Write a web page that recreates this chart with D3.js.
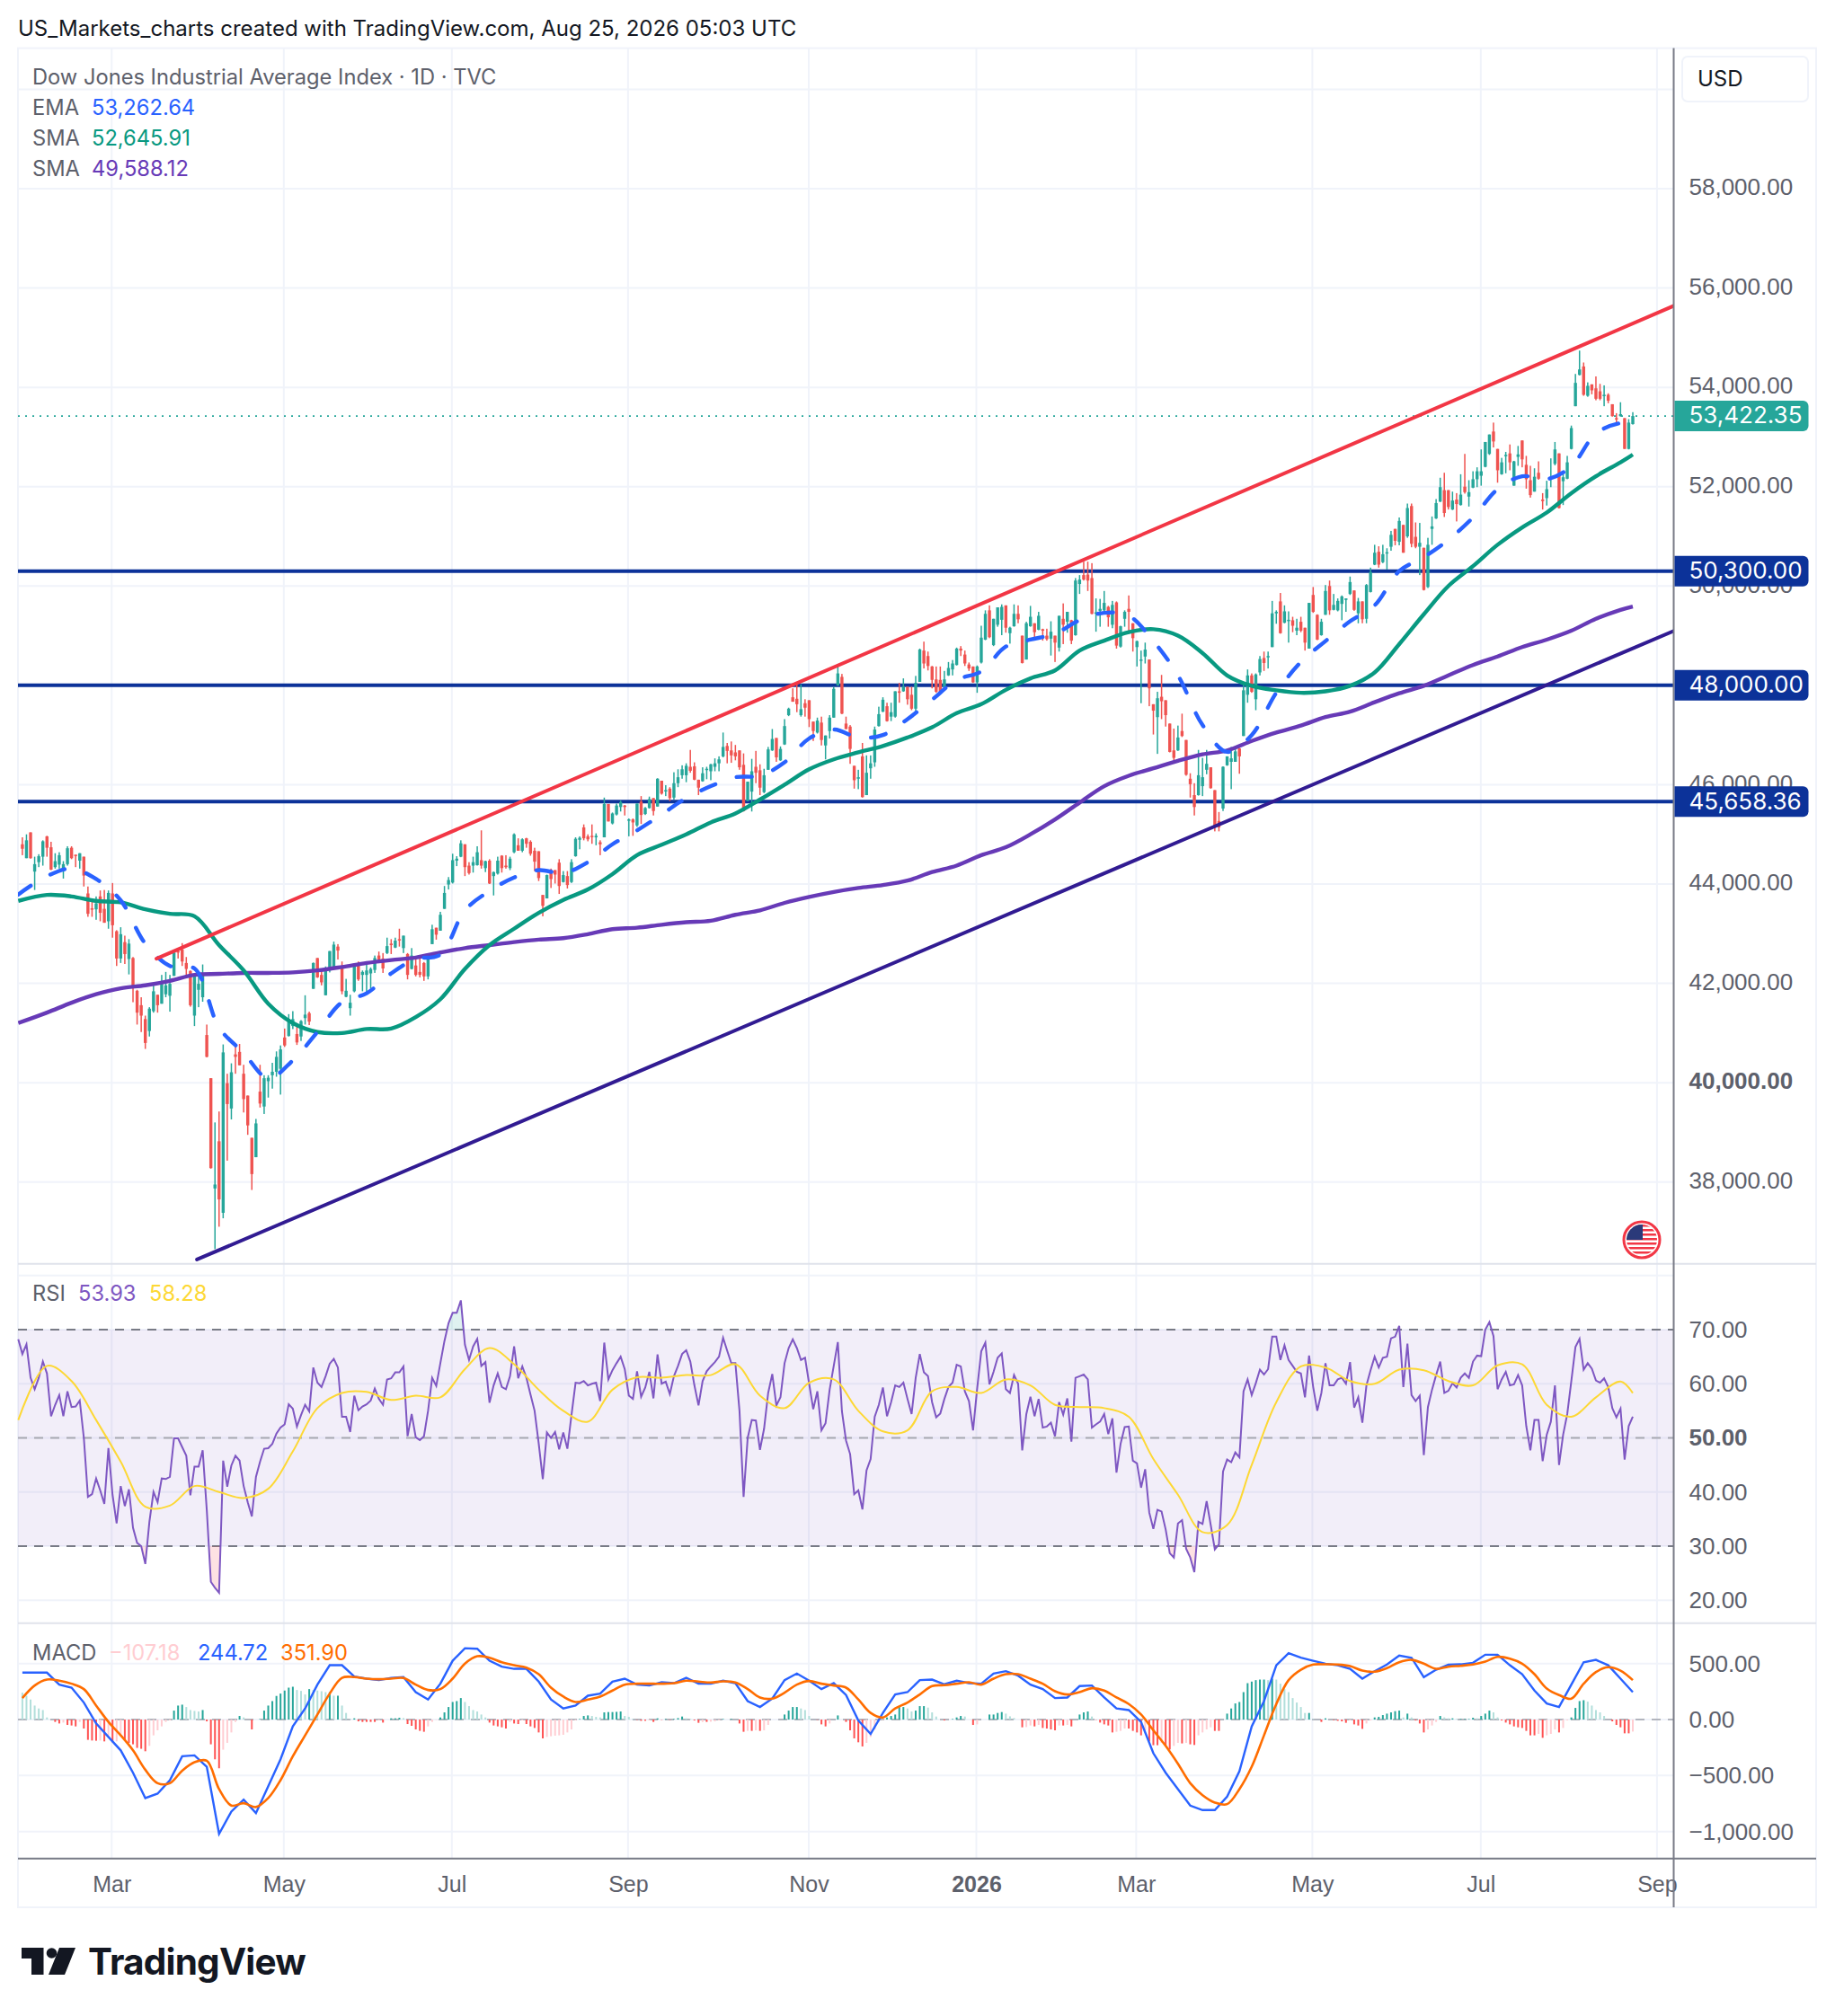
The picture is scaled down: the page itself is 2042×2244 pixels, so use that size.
<!DOCTYPE html>
<html>
<head>
<meta charset="utf-8">
<title>Dow Jones Industrial Average Index</title>
<script src="https://cdn.jsdelivr.net/npm/d3@7"></script>
<style>
  html, body { margin: 0; background: #fff; }
  svg { display: block; font-family: Inter, "Noto Sans", sans-serif; }
  .ax text { fill: #5d606b; font-size: 26px; }
  .ax path { display: none; }
  .time text { font-size: 25px; }
  .legend { font-size: 23.7px; fill: #5d606b; }
</style>
</head>
<body>
<svg id="chart" width="2042" height="2244"></svg>
<script>
// one value per trading day, oldest first
const opens = [
  44800,44520,45040,44250,44440,44550,44960,44740,44340,44390,
  44310,44400,44730,44590,44470,44550,43810,43510,43490,43750,
  43500,43250,43810,43050,42500,42830,42490,42510,41850,41560,
  41280,41040,41440,41770,41590,41780,41750,42150,42650,42680,
  42410,42250,41350,41870,41720,40960,40090,37870,38820,37380,
  39990,39480,40570,40620,40180,39740,38890,38500,39820,39520,
  40030,40150,40220,40280,40910,40940,41140,40980,40930,41300,
  41400,41890,42510,42170,41760,42260,42320,42740,42350,41730,
  41500,41840,42390,42170,42170,42200,42270,42560,42500,42610,
  42800,42720,42890,42710,42590,42290,42360,42230,42410,42140,
  42790,43120,43060,43500,43990,44030,44470,44550,44800,44370,
  44370,44380,44480,44320,44470,44160,44210,44570,44370,44320,
  44640,44780,44670,44920,44850,44670,44660,43780,43710,44280,
  44280,44430,44040,44160,44040,44560,44890,45140,44960,44970,
  44940,44840,44940,45610,45220,45400,45550,45580,45290,45300,
  45180,45660,45410,45530,45730,45560,46080,45880,45920,45740,
  46030,46190,46190,46360,46370,46100,46070,46300,46270,46360,
  46430,46570,46780,46690,46650,46690,46400,45670,45860,46360,
  46290,45850,46300,46690,46940,46490,46810,47400,47760,47730,
  47400,47640,47700,47270,47050,47250,46790,47080,47350,48000,
  48170,47230,47170,46380,46120,46570,45790,46330,46450,47180,
  47470,47580,47370,47370,47880,47880,47970,47810,47530,48070,
  48700,48590,48380,48120,48110,47960,48200,48320,48410,48740,
  48620,48420,48380,48060,48460,48920,49510,48810,49220,49320,
  49610,49050,49190,49440,49000,48520,49190,49250,49120,49130,
  49000,48940,49000,48760,49340,49280,49310,49010,50040,50220,
  50230,50160,49440,49500,49510,49580,49220,49670,48780,49340,
  49540,49250,48770,48500,48580,48520,47620,47360,47770,47700,
  47230,46690,46690,47080,46900,46120,45790,45790,45970,46300,
  46350,45890,45270,45520,46390,46460,46460,46730,46980,47810,
  48200,47720,48260,48550,48570,48770,49450,49690,49260,49300,
  49310,49100,49280,49160,48740,49820,49420,49010,49420,50000,
  49520,49510,49640,49720,49840,49910,49450,49690,49340,49880,
  50430,50690,50480,50660,50790,51150,50890,51230,51000,51610,
  50990,50790,50770,49980,51150,51360,51700,51930,51930,51540,
  51740,51630,52000,51800,51980,52150,52220,52400,52660,53110,
  52760,52250,52620,52670,52020,52600,52930,52440,52130,51900,
  52280,51740,51770,52160,52460,52670,52110,52160,52760,53620,
  54250,54420,53830,54060,53980,53920,53830,53850,53660,53380,
  53420,53380,52760,53260
];
const highs = [
  44940,45000,45040,44550,44600,44880,44970,44850,44620,44640,
  44460,44760,44760,44590,44620,44550,43950,43670,43750,43870,
  43880,43870,44020,43070,43130,42960,42890,42530,41870,41720,
  41350,41520,42000,41770,42170,42230,42170,42650,42680,42810,
  42530,42260,42170,42140,42380,41170,40090,39200,39420,40770,
  40180,40390,40780,40780,40360,39740,38890,39270,40360,40150,
  40150,40400,40630,40750,41090,41380,41440,41160,41260,41760,
  41430,42420,42510,42290,42340,42650,42840,42790,42440,42090,
  41770,42350,42440,42260,42380,42320,42560,42640,42610,42920,
  42890,42920,43100,42960,42610,42710,42530,42530,42430,42600,
  43180,43120,43440,43960,44140,44610,44560,44880,44800,44440,
  44550,44760,45080,44470,44500,44250,44550,44580,44580,44550,
  45020,44920,44920,44930,44880,44730,44660,43780,44190,44310,
  44280,44500,44260,44260,44500,44940,44960,45200,45000,45200,
  45020,44880,45740,45610,45440,45620,45680,45590,45320,45320,
  45620,45770,45550,45760,45730,46130,46080,45990,45950,46250,
  46310,46390,46430,46700,46450,46100,46350,46360,46420,46530,
  46570,47050,46840,46870,46800,46690,46630,46060,46520,46680,
  46410,46320,46760,47120,46940,46770,47320,47550,47940,48020,
  48020,47720,47700,47270,47350,47370,46990,47400,47970,48420,
  48230,47370,47200,46380,46300,46840,46590,46590,47170,47570,
  47760,47650,47650,47880,48050,48140,47970,47970,48190,48740,
  48880,48680,48390,48380,48380,48290,48470,48510,48760,48790,
  48700,48460,48380,48400,49200,49510,49610,49340,49570,49630,
  49610,49180,49630,49610,49000,49280,49600,49250,49480,49140,
  49140,49290,49000,49400,49650,49480,49320,50160,50220,50490,
  50490,50460,49750,49740,49900,49600,49700,49690,49200,49510,
  49810,49250,48900,48700,48860,48520,47620,47870,48210,47700,
  47230,47130,47190,47430,46900,46230,46030,46700,46540,46700,
  46350,45890,45450,46370,46570,46760,46760,46740,48050,48320,
  48240,48240,48590,48680,48680,49700,49510,49860,49610,49490,
  49380,49340,49380,49160,49660,49980,49430,49340,50020,50110,
  49840,49750,49810,49750,50190,49910,49760,49690,50040,50370,
  50830,50800,50830,50760,51110,51150,51380,51230,51660,51660,
  51280,51270,50770,50970,51400,51750,52180,52280,51930,51900,
  51870,52250,52660,52130,52310,52390,52750,52900,53050,53290,
  52760,52580,52700,52850,52520,52820,52930,52620,52420,52370,
  52510,51870,52120,52570,52900,52670,52250,52620,53230,54270,
  54740,54500,54100,54060,54220,54070,54040,53880,53660,53480,
  53700,53380,53360,53500
];
const lows = [
  44580,44520,44510,43880,44340,44370,44550,44280,44310,44310,
  44110,44370,44500,44340,44310,43950,43340,43340,43280,43250,
  43220,43100,42920,42350,42410,42390,42180,41620,41170,41020,
  40680,40930,41410,41410,41590,41720,41430,42150,42500,42350,
  42140,41530,41140,41520,41630,40510,38270,36650,37100,37270,
  38430,39260,40180,40350,39400,38950,37840,38500,39500,39370,
  39700,39880,40120,39760,40720,40930,41080,40760,40840,41170,
  41160,41890,42110,41960,41760,42220,42320,42480,41780,41720,
  41350,41820,42050,41840,41810,41900,42210,42410,42210,42590,
  42590,42710,42740,42610,42080,42280,42140,42120,42050,42080,
  42790,42880,43060,43500,43890,44010,44360,44540,44160,44190,
  44230,44370,44310,44240,44000,43770,44190,44230,44310,44280,
  44620,44670,44640,44730,44570,44260,44060,43350,43710,43920,
  44010,43800,44030,43910,44020,44550,44700,44880,44860,44810,
  44780,44580,44940,45260,45200,45380,45460,45380,44960,44970,
  45150,45210,45390,45520,45380,45560,45800,45770,45670,45700,
  45950,46120,46050,46240,46090,45790,46060,46110,46090,46270,
  46270,46550,46430,46440,46490,46300,45460,45670,45460,46030,
  45790,45830,46300,46680,46460,46480,46800,47380,47670,47460,
  47370,47370,47160,46880,47030,46790,46510,46930,47350,47990,
  47420,47120,46420,45920,45910,45740,45790,46120,46360,47170,
  47460,47270,47280,47350,47650,47870,47610,47500,47480,48070,
  48340,48300,47940,47850,47850,47950,48190,48200,48400,48590,
  48390,48290,48050,47850,48440,48910,48950,48790,49180,49010,
  49060,48840,49180,49250,48440,48520,49180,48950,49110,48900,
  48900,48600,48470,48680,48830,49060,48830,49000,49840,50110,
  49900,49430,49080,49180,49480,49180,49150,48740,48760,49180,
  49040,48680,48380,47640,48440,47580,47010,46620,47320,47170,
  46650,46490,46680,46960,46180,45740,45380,45780,45770,46210,
  45920,45060,45060,45470,46380,45910,46460,46220,46980,47650,
  47850,47500,48200,48290,48340,48770,49240,49040,49250,48860,
  49070,49010,49070,48700,48740,49460,48910,49000,49420,49420,
  49510,49490,49310,49480,49820,49500,49250,49250,49250,49870,
  50420,50370,50460,50330,50710,50820,50820,50670,50970,50780,
  50760,50220,49910,49960,50830,51350,51690,51390,51540,51530,
  51300,51620,51860,51600,51970,51990,52020,52390,52640,52790,
  52080,52240,52270,52330,52020,52420,52390,51960,51780,51900,
  52140,51540,51620,51990,52430,51560,51630,52150,52750,53620,
  54240,53830,53810,53860,53740,53740,53620,53680,53410,53240,
  53410,52760,52750,53250
];
const closes = [
  44710,44880,44520,44400,44560,44860,44730,44290,44460,44580,
  44400,44720,44520,44570,44620,44170,43400,43490,43610,43420,
  43220,43820,43170,42500,42990,42590,42800,41900,41410,41350,
  40800,41490,41840,41560,41990,41960,41990,42620,42620,42440,
  42290,41560,42170,41990,42210,40520,38280,37950,37650,40610,
  39570,40210,40520,40350,39670,39140,38160,39180,39580,40090,
  40100,40220,40520,40670,40750,41280,41280,40810,41240,41370,
  41230,42410,42120,42020,42290,42650,42780,42660,41840,41850,
  41610,42340,42080,42230,42260,42290,42510,42470,42300,42750,
  42770,42860,42870,42960,42170,42560,42170,42170,42140,42590,
  43090,42980,43380,43820,44080,44480,44510,44820,44340,44220,
  44440,44640,44370,44460,44010,44240,44470,44320,44340,44510,
  45000,44670,44900,44810,44610,44450,44120,43560,44180,44100,
  44190,43960,44180,43980,44440,44910,44930,44920,44900,44960,
  44970,44800,45610,45260,45420,45580,45650,45550,45300,45240,
  45620,45390,45530,45710,45470,46120,45820,45890,45730,46030,
  46150,46310,46380,46280,46100,45940,46230,46320,46410,46430,
  46510,46760,46680,46590,46570,46350,45470,46060,46270,46240,
  45940,46190,46710,46920,46550,46720,47180,47530,47670,47620,
  47520,47550,47320,47080,47290,46900,46990,47350,47930,48240,
  47430,47120,46720,46090,46150,45750,46240,46430,47110,47420,
  47710,47280,47460,47880,47850,47970,47720,47530,48050,48720,
  48440,48390,48110,47870,47870,48120,48350,48440,48740,48700,
  48440,48340,48060,48380,48960,49440,48970,49340,49570,49580,
  49160,49160,49440,49330,48450,49250,49380,49070,49400,49100,
  48930,49080,48860,49400,49220,49480,48900,50110,50130,50130,
  50110,49440,49470,49540,49660,49370,49620,48800,49190,49480,
  49480,48950,48890,48520,48720,47940,47490,47740,47680,47400,
  46660,46540,46950,46980,46200,46010,45550,46190,46150,46420,
  45930,45150,45140,46360,46570,46530,46670,46570,47900,48200,
  47870,48220,48530,48450,48590,49450,49480,49050,49490,49320,
  49200,49160,49100,48860,49660,49480,48920,49280,49900,49510,
  49620,49700,49790,49750,50080,49520,49690,49330,50020,50280,
  50670,50430,50640,50680,51030,50910,51310,50670,51570,50850,
  50790,50870,49920,50830,51200,51670,51990,51470,51590,51720,
  51650,51840,51890,51890,52150,52310,52310,52900,53050,52910,
  52330,52490,52640,52490,52510,52650,52550,52150,51830,52200,
  52160,51710,51950,52190,52750,51570,52190,52490,53180,54090,
  54360,53850,54030,53940,53770,53770,53850,53730,53420,53360,
  53460,52760,53290,53422.35
];

// moving averages, read every sixth bar
const maIdx = d3.range(0, 394, 6).concat(393);
maIdx[0] = -1; // the lines run off the left edge
const ema = [
  43790,44160,44310,44100,43670,42800,42350,42300,41110,40600,
  40090,40450,41020,41620,41800,42200,42490,42580,43470,43860,
  44130,44280,44220,44440,44800,45080,45400,45730,45970,46150,
  46180,46450,46930,47110,46950,47000,47320,47710,48110,48280,
  48780,48920,49040,49310,49460,49400,48890,48200,47200,46660,
  47000,47850,48470,48890,49290,49610,50300,50580,50930,51380,
  51950,52210,52150,52410,53070,53280,53262.64
];
const smaFast = [
  43660,43780,43750,43660,43630,43490,43400,43350,42770,42260,
  41590,41200,41020,41000,41080,41090,41320,41680,42290,42770,
  43100,43420,43680,43890,44200,44580,44790,45000,45240,45420,
  45700,46000,46310,46510,46650,46780,46950,47155,47440,47620,
  47910,48140,48300,48700,48900,49070,49130,49000,48650,48200,
  47990,47900,47850,47880,47990,48260,48830,49430,50000,50400,
  50830,51180,51480,51870,52210,52490,52645.91
];
const smaSlow = [
  41200,41410,41610,41780,41900,41960,42050,42170,42190,42210,
  42210,42220,42260,42330,42410,42470,42520,42620,42710,42770,
  42830,42880,42910,42990,43090,43120,43180,43230,43260,43380,
  43470,43620,43740,43840,43920,43980,44070,44240,44370,44580,
  44740,45000,45300,45640,45970,46180,46330,46480,46610,46690,
  46880,47050,47190,47360,47470,47660,47840,47990,48200,48410,
  48580,48770,48920,49100,49340,49520,49588.12
];

// horizontal levels and trendlines, bar index / price
const levels = [50300, 48000, 45658.36];
const redTrendIdx = [32.7, 403];
const redTrendPrice = [42497, 55641];
const navyTrendIdx = [42.6, 403];
const navyTrendPrice = [36440, 49096];

// RSI, one per bar, first value is the bar cut off at the left edge
const rsi = [
  68.2,
  65.5,67.3,61.1,59.0,61.1,64.1,61.9,54.0,56.1,57.9,
  54.0,58.6,55.7,55.8,56.9,50.0,39.1,39.6,42.5,40.3,
  37.8,48.1,39.5,34.2,41.1,37.4,40.5,33.4,30.6,30.0,
  26.7,34.5,40.0,38.1,42.5,42.4,42.8,49.9,49.9,48.3,
  46.7,39.4,44.7,44.7,47.7,36.7,23.4,22.3,21.4,45.8,
  41.0,44.9,46.7,45.8,41.1,38.1,35.5,42.8,45.6,48.0,
  48.1,48.9,50.8,51.9,52.5,56.2,55.4,52.1,54.2,56.1,
  54.9,63.0,60.2,59.4,61.4,63.7,64.6,63.0,53.9,53.9,
  51.1,57.8,55.1,55.8,56.2,56.9,59.1,57.2,56.1,60.8,
  61.0,62.1,62.1,63.2,50.3,54.4,50.1,49.6,50.3,55.0,
  61.1,59.6,63.8,67.9,71.2,73.1,73.1,75.4,67.2,64.4,
  66.9,68.3,63.3,64.0,56.5,59.7,61.9,59.4,59.0,61.4,
  66.9,61.0,63.2,61.1,58.0,55.0,49.0,42.4,51.0,50.0,
  51.1,47.9,51.0,48.0,54.2,60.2,60.1,60.5,59.7,60.0,
  60.2,56.8,67.6,60.8,62.5,63.8,65.0,62.7,57.8,57.2,
  62.3,57.6,59.3,62.2,57.3,65.4,60.0,60.4,58.1,61.4,
  63.3,65.5,66.2,64.1,59.7,56.0,60.5,62.3,63.2,64.0,
  65.0,68.5,66.1,63.8,63.8,55.0,39.1,50.0,53.3,53.2,
  47.8,51.7,58.3,61.8,56.0,57.5,63.8,66.6,68.2,66.6,
  64.4,64.8,60.0,55.3,58.6,51.4,52.7,58.9,63.3,67.7,
  54.9,49.5,47.0,39.6,40.3,36.8,44.0,46.1,53.9,56.1,
  59.3,54.0,56.6,59.7,59.4,60.2,57.2,54.4,61.1,65.5,
  62.1,61.4,56.6,53.8,54.5,57.2,59.4,60.2,63.5,63.2,
  58.6,56.8,51.4,59.1,66.0,67.6,59.9,62.2,64.8,65.6,
  59.0,58.3,61.6,60.0,47.7,54.4,57.6,54.0,57.2,51.9,
  52.1,52.8,50.3,56.6,54.3,57.3,49.3,61.1,61.4,61.7,
  60.8,51.9,52.5,53.0,54.4,50.7,53.6,43.6,48.9,52.0,
  52.1,45.8,45.3,40.8,44.2,36.2,33.2,36.7,36.4,33.1,
  28.7,27.9,34.2,34.8,29.5,27.9,25.2,34.5,34.1,38.3,
  33.9,29.4,30.3,43.8,46.0,45.5,47.3,46.4,58.6,60.8,
  57.9,60.1,62.6,61.7,62.7,68.7,68.7,64.4,67.1,64.4,
  63.3,62.2,61.9,57.5,65.2,59.4,55.0,58.3,63.8,59.7,
  59.7,60.8,61.1,60.0,64.0,55.6,57.5,52.8,59.7,62.5,
  65.0,63.0,64.8,65.0,68.4,68.7,70.7,59.4,67.4,57.9,
  56.8,57.8,46.8,55.7,58.9,61.6,64.1,58.3,58.7,60.1,
  59.3,61.1,61.9,61.1,64.1,65.2,65.1,70.0,71.4,68.8,
  59.0,60.8,62.2,59.7,59.9,61.6,59.7,52.2,47.7,53.3,
  53.3,45.7,50.6,53.0,59.7,45.0,50.6,54.4,60.5,66.8,
  68.3,62.6,63.8,62.8,60.6,60.2,61.0,59.4,55.5,53.8,
  55.4,46.0,52.2,53.93
];
const rsiSignal = [
  53.3,63.3,60.5,53.3,45.6,37.3,37.5,41.1,40.0,38.9,
  40.6,47.5,55.5,58.3,58.5,57.0,57.8,57.5,62.7,66.6,
  63.6,58.9,55.0,53.0,58.9,61.2,61.1,61.6,61.6,63.6,
  57.8,55.5,60.2,60.8,55.0,51.2,51.4,58.6,59.4,58.3,
  60.8,59.7,56.1,55.7,55.5,53.9,46.1,39.5,32.6,33.9,
  45.0,56.6,63.2,63.0,60.5,60.0,62.6,62.5,60.5,59.7,
  63.4,63.6,56.1,53.9,57.5,60.4,58.28
];

// MACD lines read every third bar, histogram every bar
const macdIdx = d3.range(0, 394, 3);
const macdLine = [
  419,419,419,312,285,152,-35,-155,-275,-475,
  -701,-661,-541,-328,-320,-421,-1021,-821,-715,-835,
  -595,-355,-61,99,312,485,485,384,365,352,
  371,379,245,179,320,525,637,632,525,472,
  453,453,339,179,99,125,213,232,339,365,
  312,304,333,325,373,320,320,347,325,165,
  112,187,352,411,347,272,325,219,-8,-128,
  59,224,245,352,357,315,347,325,320,411,
  432,392,312,272,192,197,299,304,197,99,
  85,-21,-301,-475,-621,-768,-808,-808,-688,-461,
  -61,165,485,592,552,525,499,485,453,365,
  432,491,571,552,379,445,491,493,507,579,
  579,485,405,259,144,112,312,512,533,485,
  365,244.72
];
const macdSignal = [
  192,304,357,347,320,272,125,-21,-141,-275,
  -448,-568,-568,-456,-381,-368,-621,-768,-747,-781,
  -701,-541,-328,-141,45,232,373,379,365,360,
  365,371,312,264,272,365,499,565,552,512,
  485,464,405,285,205,157,179,205,259,312,
  320,320,320,325,347,339,331,341,331,272,
  197,187,240,312,344,320,304,285,179,59,
  19,99,152,224,299,307,320,333,312,365,
  405,405,365,320,253,224,245,280,259,197,
  139,45,-96,-235,-395,-568,-675,-741,-755,-621,
  -421,-141,139,352,445,491,493,491,477,437,
  427,459,512,533,499,453,472,480,491,517,
  560,544,499,405,277,219,187,320,424,467,
  437,351.9
];
const macdHist = [
  240,213,179,125,99,85,19,0,-21,-35,
  -27,-48,-53,-61,-21,-80,-181,-187,-189,-187,
  -195,-141,-203,-195,-141,-187,-208,-221,-253,-261,
  -283,-235,-141,-96,-61,-21,-8,80,125,133,
  112,85,77,72,85,-16,-221,-355,-435,-269,
  -208,-115,-21,32,19,0,-88,0,5,80,
  125,165,211,232,259,285,293,264,256,224,
  272,264,259,253,245,245,213,213,125,59,
  5,11,-16,-21,-21,-21,-21,-8,-27,0,
  11,11,16,13,-40,-56,-88,-101,-109,-61,
  -21,-3,19,64,112,157,165,192,157,120,
  85,72,45,19,-27,-53,-61,-69,-80,-21,
  -35,-40,-8,-40,-61,-75,-115,-168,-155,-149,
  -144,-141,-136,-115,-88,-8,5,32,37,32,
  24,19,64,67,67,69,72,32,24,5,
  -3,-11,-11,-8,-21,11,-3,5,-3,5,
  13,27,11,5,-8,-29,-21,-21,-19,-16,
  -8,5,0,5,0,-35,-109,-101,-101,-96,
  -101,-96,-48,0,0,0,45,80,112,112,
  99,85,32,0,-3,-43,-61,-35,0,37,
  0,-21,-96,-168,-203,-240,-208,-155,-88,-21,
  -3,19,32,45,112,112,99,72,80,120,
  120,107,64,27,0,-8,0,5,19,32,
  27,0,-48,-43,0,0,45,45,59,67,
  53,29,13,0,-69,-67,-53,-61,-48,-75,
  -80,-88,-96,-53,-53,-48,-61,0,45,64,
  72,27,-3,-27,-43,-53,-115,-109,-101,-80,
  -80,-101,-115,-141,-96,-195,-229,-229,-208,-235,
  -267,-235,-208,-213,-208,-221,-227,-141,-115,-88,
  -69,-101,-101,0,53,99,144,157,245,325,
  339,352,357,357,352,365,357,320,272,245,
  192,152,112,59,59,5,0,-21,11,0,
  -5,-11,-16,-29,-8,-43,-53,-83,-35,-8,
  19,24,40,53,64,75,80,19,53,19,
  -8,-35,-115,-88,-53,-21,32,19,11,11,
  5,5,5,5,16,11,32,53,80,64,
  19,-8,-27,-43,-61,-69,-75,-101,-141,-141,
  -128,-163,-141,-128,-88,-115,-75,-8,19,104,
  165,173,160,125,85,64,32,0,-16,-48,
  -69,-123,-123,-107.18
];

// axes
const timeIdx = [21.8, 63.8, 104.8, 147.8, 191.9, 232.8, 271.8, 314.8, 355.9, 398.9];
const timeLabels = ['Mar', 'May', 'Jul', 'Sep', 'Nov', '2026', 'Mar', 'May', 'Jul', 'Sep'];
const priceTicks = [58000, 56000, 54000, 52000, 50000, 48000, 46000, 44000, 42000, 40000, 38000];
const priceGrid = [60000].concat(priceTicks);
const rsiTicks = [70, 60, 50, 40, 30, 20];
const rsiGrid = [80].concat(rsiTicks);
const macdTicks = [500, 0, -500, -1000];

const UP = '#26a69a', DOWN = '#ef5350';
const LEVEL = '#0c3299';
const LEFT = 20, AXIS_X = 1862.5, RIGHT = 2021;
const TOP = 53.6, PRICE_BOTTOM = 1406.7, RSI_BOTTOM = 1806.7, MACD_BOTTOM = 2068.7, TIME_BOTTOM = 2123;

const fmt = d => {
  const s = d3.format(',.2f')(Math.abs(d));
  return (d < 0 ? '\u2212' : '') + s;
};

const svg = d3.select('#chart');
const defs = svg.append('defs');

const x = d3.scaleLinear().domain([0, 393]).range([24.9, 1817]);
const y = d3.scaleLinear().domain([58000, 38000]).range([210, 1315.7]);
const yRsi = d3.scaleLinear().domain([70, 30]).range([1480, 1721]);
const yMacd = d3.scaleLinear().domain([500, -1000]).range([1851.7, 2038.7]);

const clip = (id, top, bottom) =>
  defs.append('clipPath').attr('id', id).append('rect')
    .attr('x', LEFT).attr('y', top).attr('width', AXIS_X - LEFT).attr('height', bottom - top);

clip('clip-price', TOP, PRICE_BOTTOM);
clip('clip-over', yRsi.range()[0] - 80, yRsi(70));
clip('clip-under', yRsi(30), RSI_BOTTOM);

// grid
const grid = svg.append('g').attr('stroke', '#f0f3fa').attr('stroke-width', 2);
const hGrid = (values, scale) =>
  grid.append('g').selectAll('line').data(values).join('line')
    .attr('x1', LEFT).attr('x2', AXIS_X)
    .attr('y1', d => scale(d)).attr('y2', d => scale(d));

grid.append('g').selectAll('line').data(timeIdx).join('line')
  .attr('x1', d => x(d)).attr('x2', d => x(d))
  .attr('y1', TOP).attr('y2', MACD_BOTTOM);
hGrid(priceGrid, y);
hGrid(rsiGrid, yRsi);
hGrid(macdTicks, yMacd);

// frame
svg.append('rect')
  .attr('x', LEFT).attr('y', TOP)
  .attr('width', RIGHT - LEFT).attr('height', TIME_BOTTOM - TOP)
  .attr('fill', 'none').attr('stroke', '#f0f3fa').attr('stroke-width', 2);

// RSI band goes over the grid but is see-through
svg.append('rect')
  .attr('x', LEFT).attr('y', yRsi(70))
  .attr('width', AXIS_X - LEFT).attr('height', yRsi(30) - yRsi(70))
  .attr('fill', '#7e57c2').attr('fill-opacity', 0.1);

// price pane
const price = svg.append('g').attr('clip-path', 'url(#clip-price)');

price.append('g').selectAll('line').data(levels).join('line')
  .attr('x1', LEFT).attr('x2', AXIS_X)
  .attr('y1', d => y(d)).attr('y2', d => y(d))
  .attr('stroke', LEVEL).attr('stroke-width', 4);

price.append('line')
  .attr('x1', LEFT).attr('x2', AXIS_X)
  .attr('y1', y(closes[393])).attr('y2', y(closes[393]))
  .attr('stroke', UP).attr('stroke-width', 1.6).attr('stroke-dasharray', '2 6');

const candles = price.append('g').selectAll('g').data(d3.range(opens.length)).join('g')
  .attr('fill', i => closes[i] >= opens[i] ? UP : DOWN);

candles.append('rect')
  .attr('x', i => x(i) - 0.75).attr('width', 1.5)
  .attr('y', i => y(highs[i])).attr('height', i => y(lows[i]) - y(highs[i]));

candles.append('rect')
  .attr('x', i => x(i) - 1.7).attr('width', 3.4)
  .attr('y', i => y(Math.max(opens[i], closes[i])))
  .attr('height', i => Math.max(1.5, Math.abs(y(opens[i]) - y(closes[i]))));

const maLine = d3.line()
  .x((d, i) => x(maIdx[i]))
  .y(d => y(d))
  .curve(d3.curveCatmullRom);

price.append('path').attr('d', maLine(smaSlow))
  .attr('fill', 'none').attr('stroke', '#673ab7').attr('stroke-width', 4.4);
price.append('path').attr('d', maLine(smaFast))
  .attr('fill', 'none').attr('stroke', '#089981').attr('stroke-width', 4.4);
price.append('path').attr('d', maLine(ema))
  .attr('fill', 'none').attr('stroke', '#2962ff').attr('stroke-width', 4.4)
  .attr('stroke-linecap', 'round').attr('stroke-dasharray', '17 25');

const trend = (idx, prices, color) =>
  price.append('line')
    .attr('x1', x(idx[0])).attr('y1', y(prices[0]))
    .attr('x2', x(idx[1])).attr('y2', y(prices[1]))
    .attr('stroke', color).attr('stroke-width', 4).attr('stroke-linecap', 'round');

trend(redTrendIdx, redTrendPrice, '#f23645');
trend(navyTrendIdx, navyTrendPrice, '#311b92');

// RSI pane
const rsiDash = (v, color) =>
  svg.append('line')
    .attr('x1', LEFT).attr('x2', AXIS_X)
    .attr('y1', yRsi(v)).attr('y2', yRsi(v))
    .attr('stroke', color).attr('stroke-width', 2).attr('stroke-dasharray', '10 8');

rsiDash(70, '#787b86');
rsiDash(50, '#a8aab2');
rsiDash(30, '#787b86');

const rsiX = (d, i) => x(i - 1);
svg.append('path')
  .attr('clip-path', 'url(#clip-over)')
  .attr('d', d3.area().x(rsiX).y0(yRsi(70)).y1(d => yRsi(d))(rsi))
  .attr('fill', '#26a69a').attr('fill-opacity', 0.15);
svg.append('path')
  .attr('clip-path', 'url(#clip-under)')
  .attr('d', d3.area().x(rsiX).y0(yRsi(30)).y1(d => yRsi(d))(rsi))
  .attr('fill', '#f23645').attr('fill-opacity', 0.15);

svg.append('path')
  .attr('d', d3.line().x(rsiX).y(d => yRsi(d))(rsi))
  .attr('fill', 'none').attr('stroke', '#7e57c2').attr('stroke-width', 2);
svg.append('path')
  .attr('d', d3.line().x((d, i) => x(maIdx[i])).y(d => yRsi(d)).curve(d3.curveCatmullRom)(rsiSignal))
  .attr('fill', 'none').attr('stroke', '#fdd835').attr('stroke-width', 2);

// MACD pane
svg.append('line')
  .attr('x1', LEFT).attr('x2', AXIS_X)
  .attr('y1', yMacd(0)).attr('y2', yMacd(0))
  .attr('stroke', '#b2b5be').attr('stroke-width', 2).attr('stroke-dasharray', '10 8');

const histColor = (d, i) => {
  const prev = i ? macdHist[i - 1] : d + 1;
  if (d >= 0) return d >= prev ? '#26a69a' : '#b2dfdb';
  return d <= prev ? '#ff5252' : '#ffcdd2';
};

svg.append('g').selectAll('rect').data(macdHist).join('rect')
  .attr('x', (d, i) => x(i) - 1).attr('width', 2)
  .attr('y', d => Math.min(yMacd(d), yMacd(0)))
  .attr('height', d => Math.abs(yMacd(d) - yMacd(0)))
  .attr('fill', histColor);

const macdPath = d3.line().x((d, i) => x(macdIdx[i])).y(d => yMacd(d));
svg.append('path').attr('d', macdPath(macdLine))
  .attr('fill', 'none').attr('stroke', '#2962ff').attr('stroke-width', 2.4);
svg.append('path').attr('d', macdPath.curve(d3.curveCatmullRom)(macdSignal))
  .attr('fill', 'none').attr('stroke', '#ff6d00').attr('stroke-width', 2.6);

// pane separators
const separator = (py, color) =>
  svg.append('line')
    .attr('x1', LEFT).attr('x2', RIGHT).attr('y1', py).attr('y2', py)
    .attr('stroke', color).attr('stroke-width', 2);

separator(PRICE_BOTTOM, '#e0e3eb');
separator(RSI_BOTTOM, '#e0e3eb');
separator(MACD_BOTTOM, '#787b86');

// axis labels
const rightAxis = (scale, values) =>
  svg.append('g').attr('class', 'ax')
    .attr('transform', `translate(${AXIS_X},0)`)
    .call(d3.axisRight(scale).tickValues(values).tickSize(0).tickPadding(17).tickFormat(fmt));

rightAxis(y, priceTicks).selectAll('text')
  .attr('dy', '.26em')
  .attr('font-weight', d => d === 40000 ? 700 : 400);
rightAxis(yRsi, rsiTicks).selectAll('text')
  .attr('font-weight', d => d === 50 ? 700 : 400);
rightAxis(yMacd, macdTicks);

svg.append('g').attr('class', 'ax time')
  .attr('transform', `translate(0,${MACD_BOTTOM})`)
  .call(d3.axisBottom(x).tickValues(timeIdx).tickSize(0).tickPadding(20)
    .tickFormat((d, i) => timeLabels[i]))
  .selectAll('text')
  .attr('font-weight', (d, i) => timeLabels[i] === '2026' ? 700 : 400);

svg.append('line')
  .attr('x1', AXIS_X).attr('x2', AXIS_X).attr('y1', TOP).attr('y2', TIME_BOTTOM)
  .attr('stroke', '#787b86').attr('stroke-width', 2);

// price tags on the axis
const tags = [
  { v: closes[393], color: UP },
  { v: levels[0], color: LEVEL },
  { v: levels[1], color: LEVEL },
  { v: levels[2], color: LEVEL }
];
const tag = svg.append('g').selectAll('g').data(tags).join('g')
  .attr('transform', d => `translate(${AXIS_X + 1},${y(d.v)})`);
tag.append('path')
  .attr('d', 'M0,-17 H143 a6,6 0 0 1 6,6 V11 a6,6 0 0 1 -6,6 H0 Z')
  .attr('fill', d => d.color);
tag.append('text')
  .attr('x', 16).attr('dy', '.32em')
  .attr('fill', '#fff').attr('font-size', 26)
  .text(d => fmt(d.v));

// currency box
svg.append('rect')
  .attr('x', 1872).attr('y', 63).attr('width', 140).attr('height', 50).attr('rx', 6)
  .attr('fill', '#fff').attr('stroke', '#f0f3fa').attr('stroke-width', 2);
svg.append('text')
  .attr('x', 1889).attr('y', 96).attr('font-size', 24).attr('fill', '#131722')
  .text('USD');

// header and legends
svg.append('text')
  .attr('x', 20).attr('y', 40)
  .attr('font-size', 24).attr('fill', '#131722')
  .text('US_Markets_charts created with TradingView.com, Aug 25, 2026 05:03 UTC');

const legend = (lx, ly, text, color) =>
  svg.append('text').attr('class', 'legend')
    .attr('x', lx).attr('y', ly)
    .style('fill', color || null)
    .text(text);

legend(36, 94, 'Dow Jones Industrial Average Index \u00b7 1D \u00b7 TVC');
legend(36, 128, 'EMA');
legend(102, 128, fmt(ema[ema.length - 1]), '#2962ff');
legend(36, 162, 'SMA');
legend(102, 162, fmt(smaFast[smaFast.length - 1]), '#089981');
legend(36, 196, 'SMA');
legend(102, 196, fmt(smaSlow[smaSlow.length - 1]), '#673ab7');

legend(36, 1448, 'RSI');
legend(87, 1448, d3.format('.2f')(rsi[rsi.length - 1]), '#7e57c2');
legend(166, 1448, d3.format('.2f')(rsiSignal[rsiSignal.length - 1]), '#fdd835');

legend(36, 1848, 'MACD');
legend(121, 1848, fmt(macdHist[macdHist.length - 1]), '#ffcdd2');
legend(220, 1848, fmt(macdLine[macdLine.length - 1]), '#2962ff');
legend(312, 1848, fmt(macdSignal[macdSignal.length - 1]), '#ff6d00');

// flag marker
const flag = svg.append('g').attr('transform', 'translate(1827,1380)');
defs.append('clipPath').attr('id', 'clip-flag').append('circle').attr('r', 17);
flag.append('circle').attr('r', 20).attr('fill', '#fff').attr('stroke', '#f23645').attr('stroke-width', 3);
const stripes = flag.append('g').attr('clip-path', 'url(#clip-flag)');
stripes.selectAll('rect').data(d3.range(7)).join('rect')
  .attr('x', -17).attr('width', 34).attr('y', i => -17 + i * 5).attr('height', 2.5)
  .attr('fill', '#f23645');
stripes.append('rect').attr('x', -17).attr('y', -17).attr('width', 18).attr('height', 17).attr('fill', '#2b3a7a');

// logo
const logo = svg.append('g').attr('fill', '#131722');
logo.append('path').attr('d', 'M24,2168 H48.5 V2198 H35 V2180 H24 Z');
logo.append('circle').attr('cx', 57.5).attr('cy', 2174).attr('r', 5.8);
logo.append('path').attr('d', 'M66,2168 H84 L72,2198 H54 Z');
logo.append('text')
  .attr('x', 98).attr('y', 2198)
  .attr('font-size', 40.5).attr('font-weight', 700).attr('letter-spacing', -0.8)
  .text('TradingView');
</script>
</body>
</html>
